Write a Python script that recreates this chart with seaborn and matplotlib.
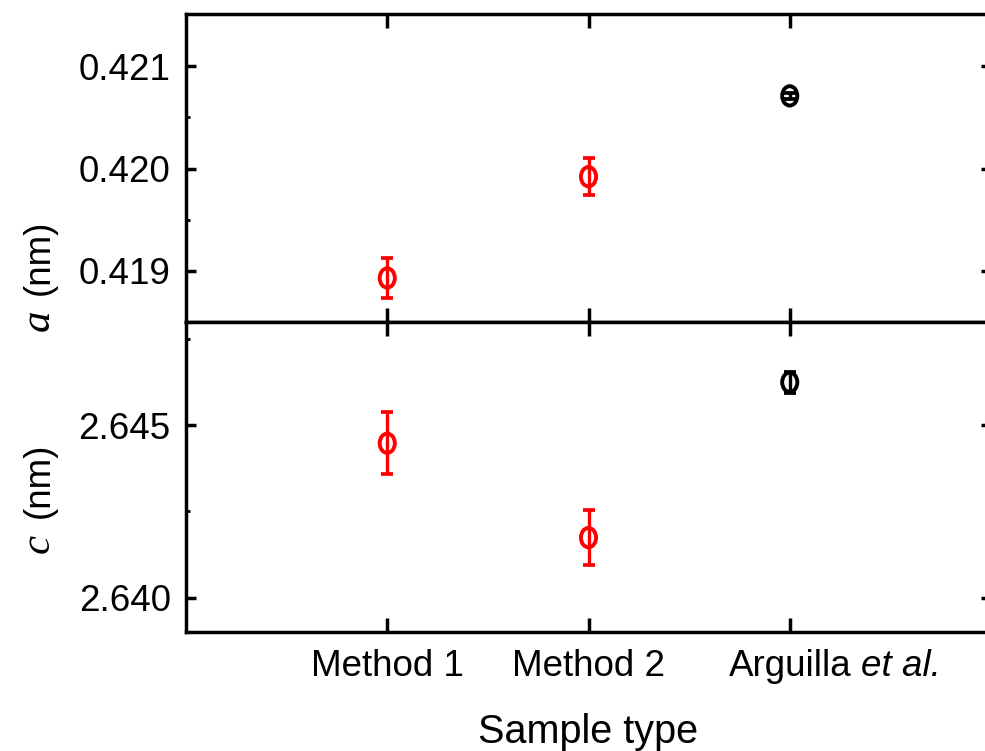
import numpy as np
import pandas as pd
import matplotlib
matplotlib.use("Agg")
import matplotlib.pyplot as plt
from matplotlib.path import Path
from matplotlib.transforms import Affine2D
import seaborn as sns

# ---- data ----
samples = ["Method 1", "Method 2", "Arguilla"]
groups = ["this work", "this work", "reference"]
a_vals = [0.41893, 0.41992, 0.42071]
a_err = [0.00020, 0.00018, 0.00003]
c_vals = [2.64448, 2.64174, 2.64625]
c_err = [0.00090, 0.00080, 0.00030]
xpos = [1, 2, 3]
a_ticks = [0.419, 0.420, 0.421]
c_ticks = [2.640, 2.645]
palette = {"this work": "#ff0000", "reference": "#000000"}

sns.set_theme(style="ticks")
plt.rcParams["font.family"] = ["Liberation Sans", "DejaVu Sans"]

df = pd.DataFrame({"x": xpos, "sample": samples, "group": groups,
                   "a": a_vals, "a_err": a_err, "c": c_vals, "c_err": c_err})

fig = plt.figure(figsize=(9.85, 7.51), dpi=100)
L = 186 / 985
W = (991 - 186) / 985
ax1 = fig.add_axes([L, 1 - 322 / 751, W, 308 / 751])
ax2 = fig.add_axes([L, 1 - 632 / 751, W, 310 / 751])

ellipse = Path.unit_circle().transformed(Affine2D().scale(0.78, 1.0))
spine_lw = 2.5

def panel(ax, col, ecol, ylim, ticks, minors, fmt):
    for g, color in palette.items():
        sub = df[df["group"] == g]
        ax.errorbar(sub["x"], sub[col], yerr=sub[ecol], fmt="none",
                    ecolor=color, elinewidth=2.4, capsize=4.5, capthick=2.7,
                    zorder=2)
    sns.scatterplot(data=df, x="x", y=col, hue="group", palette=palette,
                    marker=ellipse, s=195, linewidth=2.8, legend=False,
                    ax=ax, zorder=3)
    coll = ax.collections[-1]
    coll.set_edgecolors(coll.get_facecolors())
    coll.set_facecolor("none")
    ax.set_xlim(0, 4)
    ax.set_ylim(*ylim)
    ax.set_xticks(xpos)
    ax.set_yticks(ticks)
    ax.set_yticks(minors, minor=True)
    ax.set_yticklabels([fmt.format(t) for t in ticks])
    for s in ax.spines.values():
        s.set_linewidth(spine_lw)
        s.set_color("black")
        s.set_visible(True)
    ax.tick_params(axis="x", which="major", direction="in", top=True,
                   bottom=True, length=10, width=spine_lw, color="black")
    ax.tick_params(axis="y", which="major", direction="in", left=True,
                   right=True, length=7, width=spine_lw, color="black",
                   labelsize=26.5, pad=11, labelcolor="black")
    ax.tick_params(axis="y", which="minor", direction="in", left=True,
                   right=False, length=3, width=spine_lw * 0.8, color="black")
    ax.set_xlabel("")
    ax.set_ylabel("")
    ax.set_facecolor("white")

panel(ax1, "a", "a_err", (0.4185, 0.42151), a_ticks, [0.4195, 0.4205], "{:.3f}")
panel(ax2, "c", "c_err", (2.639, 2.648), c_ticks, [2.6425, 2.6475], "{:.3f}")

ax1.tick_params(axis="x", labelbottom=False)
ax2.set_xticklabels(samples)
ax2.tick_params(axis="x", labelsize=26.5, pad=12, labelcolor="black")
ax2.annotate("et al.", xy=(3, 0), xycoords=("data", "axes fraction"),
             xytext=(51, -12), textcoords="offset points", ha="left", va="top",
             fontsize=26.5, fontstyle="italic", color="black")
ax2.set_xlabel("Sample type", fontsize=28.5, labelpad=21, color="black")

# y-axis labels: italic serif symbol + "(nm)"
def ylabel(sym, y_sym, y_unit):
    bx = 49 / 985
    fig.text(bx, 1 - y_sym / 751, sym, rotation=90, rotation_mode="anchor",
             ha="left", va="baseline", fontsize=31,
             family="Liberation Serif", fontstyle="italic", color="black")
    fig.text(bx, 1 - y_unit / 751, "(nm)", rotation=90, rotation_mode="anchor",
             ha="left", va="baseline", fontsize=26.5, color="black")

ylabel("a", 331, 295)
ylabel("c", 553, 518)

fig.savefig("out.png", dpi=100, facecolor="white")
